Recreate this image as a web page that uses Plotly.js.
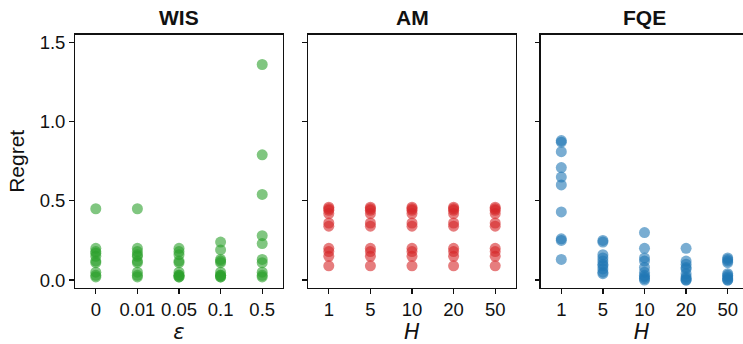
<!DOCTYPE html>
<html>
<head>
<meta charset="utf-8">
<script src="https://cdn.plot.ly/plotly-3.0.1.min.js"></script>
<style>html,body{margin:0;padding:0;background:#fff;}#chart{width:743px;height:344px;}</style>
</head>
<body>
<div id="chart"></div>
<script>
const wisCategories = ["0", "0.01", "0.05", "0.1", "0.5"];
const hCategories = ["1", "5", "10", "20", "50"];

const wisValues = [
  [0.45, 0.20, 0.18, 0.17, 0.15, 0.12, 0.11, 0.05, 0.03, 0.02],
  [0.45, 0.20, 0.18, 0.16, 0.15, 0.12, 0.11, 0.05, 0.03, 0.02],
  [0.20, 0.18, 0.16, 0.12, 0.11, 0.05, 0.03, 0.03, 0.02, 0.02],
  [0.24, 0.19, 0.13, 0.12, 0.11, 0.05, 0.03, 0.02, 0.02, 0.03],
  [1.36, 0.79, 0.54, 0.28, 0.23, 0.13, 0.11, 0.05, 0.03, 0.02]
];
const amRow = [0.46, 0.45, 0.44, 0.42, 0.36, 0.34, 0.20, 0.18, 0.15, 0.09];
const amValues = [amRow, amRow, amRow, amRow, amRow];
const fqeValues = [
  [0.88, 0.87, 0.81, 0.71, 0.65, 0.60, 0.43, 0.26, 0.25, 0.13],
  [0.25, 0.24, 0.16, 0.14, 0.12, 0.10, 0.09, 0.07, 0.05, 0.04],
  [0.30, 0.20, 0.14, 0.12, 0.08, 0.05, 0.03, 0.02, 0.01, 0.00],
  [0.20, 0.12, 0.10, 0.08, 0.07, 0.04, 0.02, 0.01, 0.00, 0.00],
  [0.14, 0.13, 0.12, 0.11, 0.04, 0.03, 0.02, 0.01, 0.00, 0.00]
];
const panelTitles = ["WIS", "AM", "FQE"];
const xTitles = ["ε", "H", "H"];
const yTitle = "Regret";
const yTicks = [0, 0.5, 1.0, 1.5];
const yTickText = ["0.0", "0.5", "1.0", "1.5"];

const colors = ["#2ca02c", "#d62728", "#1f77b4"];
const FONT = "Liberation Sans, Arial, Helvetica, sans-serif";

function flatten(cats, vals) {
  const xs = [], ys = [];
  cats.forEach((c, i) => vals[i].forEach(v => { xs.push(c); ys.push(v); }));
  return {xs, ys};
}

const sets = [
  flatten(wisCategories, wisValues),
  flatten(hCategories, amValues),
  flatten(hCategories, fqeValues)
];

const traces = sets.map((s, i) => ({
  type: "scatter",
  mode: "markers",
  x: s.xs,
  y: s.ys,
  xaxis: i === 0 ? "x" : "x" + (i + 1),
  yaxis: i === 0 ? "y" : "y" + (i + 1),
  marker: {size: 11, color: colors[i], opacity: 0.6, line: {width: 0}},
  hoverinfo: "skip",
  showlegend: false
}));

const W = 743, H = 344;
const xDomains = [[75 / W, 283 / W], [308 / W, 516 / W], [540.5 / W, 1]];
const xRanges = [[-0.5, 4.5], [-0.5, 4.5], [-0.5, 4.5 - (748.5 - 743) / 41.67]];
const yDomain = [1 - 288 / H, 1 - 34.7 / H];
const yRange = [-0.05, 1.548];

const layout = {
  width: W, height: H,
  margin: {l: 0, r: 0, t: 0, b: 0},
  paper_bgcolor: "#fff",
  plot_bgcolor: "#fff",
  font: {family: FONT, size: 19, color: "#111"},
  showlegend: false,
  annotations: []
};

const cats = [wisCategories, hCategories, hCategories];
for (let i = 0; i < 3; i++) {
  const xk = i === 0 ? "xaxis" : "xaxis" + (i + 1);
  const yk = i === 0 ? "yaxis" : "yaxis" + (i + 1);
  layout[xk] = {
    domain: xDomains[i],
    anchor: i === 0 ? "y" : "y" + (i + 1),
    type: "category",
    categoryorder: "array",
    categoryarray: cats[i],
    range: xRanges[i],
    showline: true, linecolor: "#111", linewidth: 1.4, mirror: true,
    showgrid: false, zeroline: false,
    ticks: "outside", ticklen: 4.5, tickwidth: 1.2, tickcolor: "#111",
    tickfont: {family: FONT, size: 18.5, color: "#111"},
    title: {text: xTitles[i], font: {family: "DejaVu Sans, sans-serif", size: 21, color: "#111", style: "italic"}, standoff: 2},
    automargin: false,
    fixedrange: true
  };
  layout[yk] = {
    domain: yDomain,
    anchor: i === 0 ? "x" : "x" + (i + 1),
    range: yRange,
    tickvals: yTicks,
    ticktext: yTickText,
    showticklabels: i === 0,
    showline: true, linecolor: "#111", linewidth: 1.4, mirror: i === 2 ? false : true,
    showgrid: false, zeroline: false,
    ticks: "outside", ticklen: 4.5, tickwidth: 1.2, tickcolor: "#111",
    tickfont: {family: FONT, size: 18.5, color: "#111"},
    automargin: false,
    fixedrange: true
  };
  if (i === 0) {
    layout[yk].title = {text: yTitle, font: {family: FONT, size: 21, color: "#111"}, standoff: 9};
  }
  layout.annotations.push({
    text: "<b>" + panelTitles[i] + "</b>",
    xref: "paper", yref: "paper",
    x: 0,
    y: 1 - 18 / H,
    xanchor: "center", yanchor: "middle",
    showarrow: false,
    font: {family: FONT, size: 21, color: "#111"}
  });
}
// titles centred over the middle category of each panel
layout.annotations[0].x = 179.3 / W;
layout.annotations[1].x = 412 / W;
layout.annotations[2].x = 644.3 / W;

Plotly.newPlot("chart", traces, layout, {staticPlot: true, displayModeBar: false});
</script>
</body>
</html>
